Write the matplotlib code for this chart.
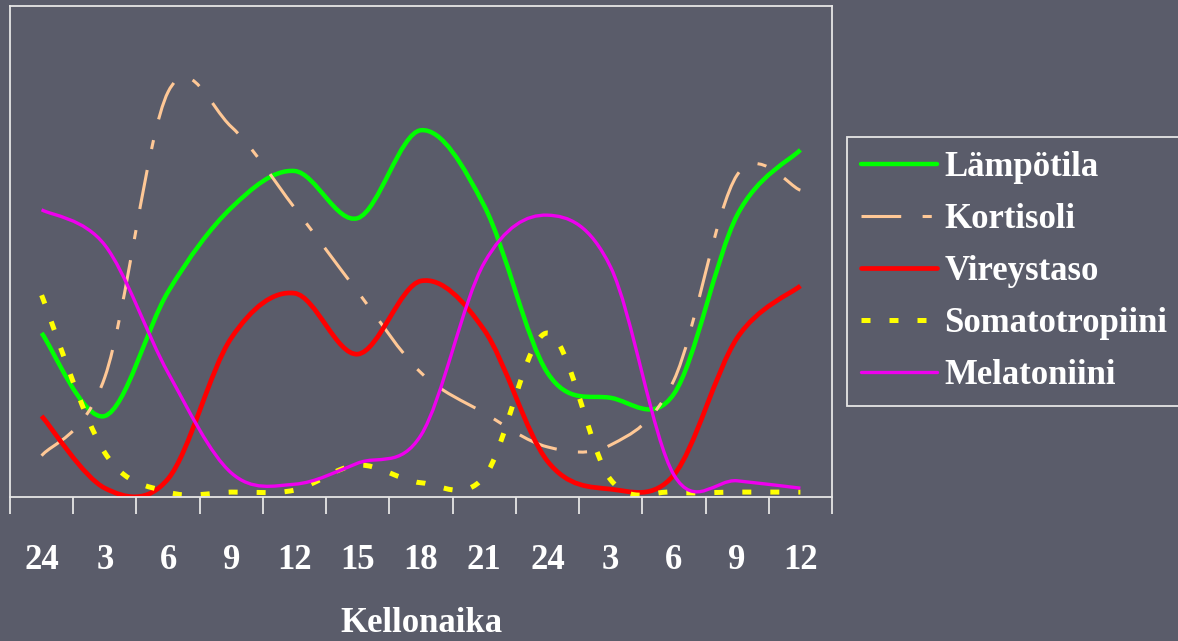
import numpy as np
import matplotlib
matplotlib.use("Agg")
import matplotlib.pyplot as plt
from matplotlib.path import Path
from matplotlib.patches import PathPatch
from matplotlib.lines import Line2D

plt.rcParams['font.family'] = ['Liberation Serif', 'DejaVu Serif']

# time of day (hours), two days
hours = ['24', '3', '6', '9', '12', '15', '18', '21', '24', '3', '6', '9', '12']

# relative levels (0-100)
lampotila = [33.4, 16.5, 41.8, 58.9, 66.4, 56.8, 74.7, 59.3, 25.3, 20.2, 21.0, 57.4, 70.7]
kortisoli = [8.4, 24.4, 82.5, 75.4, 58.9, 41.8, 25.3, 17.1, 10.2, 10.6, 23.8, 65.6, 62.5]
vireystaso = [16.5, 1.8, 3.7, 32.4, 41.5, 29.1, 44.0, 34.0, 7.3, 1.6, 4.5, 32.4, 43.0]
somatotropiini = [41.1, 9.0, 1.0, 1.0, 1.4, 6.5, 2.9, 4.1, 33.4, 3.5, 1.0, 1.0, 1.0]
melatoniini = [58.5, 51.3, 25.3, 4.9, 2.6, 6.9, 12.6, 47.7, 57.4, 46.8, 4.5, 3.3, 1.8]

bg = '#5a5c6a'
fg = '#e6e6e6'


def smooth_path(x, y):
    # bezier path through the points, like a spreadsheet "smoothed line"
    p = np.column_stack([x, y]).astype(float)
    n = len(p)
    verts = [p[0]]
    codes = [Path.MOVETO]
    for i in range(n - 1):
        p0 = p[i - 1] if i > 0 else p[i]
        p3 = p[i + 2] if i + 2 < n else p[i + 1]
        c1 = p[i] + (p[i + 1] - p0) / 6
        c2 = p[i + 1] - (p3 - p[i]) / 6
        verts += [c1, c2, p[i + 1]]
        codes += [Path.CURVE4] * 3
    return Path(verts, codes)


series = [
    ('Lämpötila', lampotila, dict(color='#00ff00', lw=3.2, ls='-')),
    ('Kortisoli', kortisoli, dict(color='#ffc896', lw=2.2, ls=(0, (13, 7, 3, 7)))),
    ('Vireystaso', vireystaso, dict(color='#ff0000', lw=3.4, ls='-')),
    ('Somatotropiini', somatotropiini, dict(color='#ffff00', lw=3.6, ls=(0, (1.8, 3.8)))),
    ('Melatoniini', melatoniini, dict(color='#ee00ee', lw=2.4, ls='-')),
]

fig = plt.figure(figsize=(11.78, 6.41), dpi=100, facecolor=bg)
ax = fig.add_axes([10 / 1178, 144 / 641, 822 / 1178, 491 / 641], facecolor=bg)

x = np.arange(len(hours))
handles = []
for name, vals, st in series:
    patch = PathPatch(smooth_path(x, vals), fill=False, edgecolor=st['color'],
                      lw=st['lw'], linestyle=st['ls'], capstyle='butt', joinstyle='round')
    ax.add_patch(patch)
    handles.append(Line2D([], [], color=st['color'], lw=st['lw'], ls=st['ls'],
                          solid_capstyle='round', dash_capstyle='butt', label=name))

ax.set_xlim(-0.5, len(hours) - 0.5)
ax.set_ylim(0, 100)
ax.set_yticks([])

ax.set_xticks(np.arange(len(hours) + 1) - 0.5)
ax.set_xticklabels([])
ax.set_xticks(x, minor=True)
ax.set_xticklabels(hours, minor=True, fontsize=25, fontweight='bold', color='white')
ax.tick_params(axis='x', which='major', length=12, width=1.3, color=fg, direction='out')
ax.tick_params(axis='x', which='minor', length=0, pad=34)

for s in ax.spines.values():
    s.set_color(fg)
    s.set_linewidth(1.3)

ax.set_xlabel('Kellonaika', fontsize=25, fontweight='bold', color='white', va='center')
ax.xaxis.set_label_coords(0.5, -0.258)

leg = fig.legend(handles=handles, loc='upper left', bbox_to_anchor=(847 / 1178, 1 - 137 / 641),
                 prop=dict(family='Liberation Serif', weight='bold', size=25),
                 handlelength=2.2, handletextpad=0.2, labelspacing=0.55,
                 borderpad=0.4, borderaxespad=0, fancybox=False,
                 facecolor=bg, edgecolor=fg, framealpha=1)
leg.get_frame().set_linewidth(1.3)
for t in leg.get_texts():
    t.set_color('white')

fig.savefig('out.png', dpi=100, facecolor=bg)
